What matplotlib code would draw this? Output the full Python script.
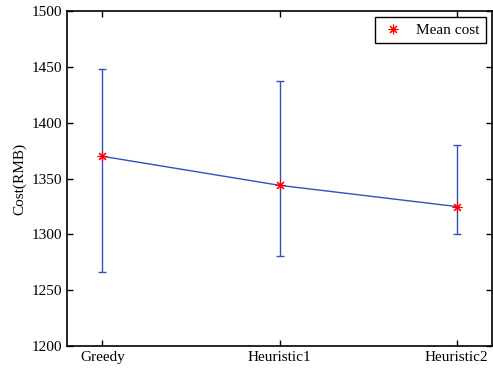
import matplotlib
matplotlib.use('Agg')
import matplotlib.pyplot as plt

plt.rcParams['font.family'] = ['Liberation Serif', 'DejaVu Serif']

methods = ['Greedy', 'Heuristic1', 'Heuristic2']
mean_cost = [1370, 1344, 1325]
low_cost = [1266, 1281, 1300]
high_cost = [1448, 1437, 1380]

xpos = list(range(1, len(methods) + 1))
err_low = [m - l for m, l in zip(mean_cost, low_cost)]
err_high = [h - m for m, h in zip(mean_cost, high_cost)]

fig = plt.figure(figsize=(4.93, 3.71), dpi=100)
ax = fig.add_axes([0.136, 0.067, 0.862, 0.903])

ax.errorbar(xpos, mean_cost, yerr=[err_low, err_high], color='#2f52bd',
            linewidth=1.0, capsize=2.6, capthick=1.0, zorder=2)
# matlab style asterisk marker
ax.plot(xpos, mean_cost, linestyle='None', marker=(8, 2, 0), color='red',
        markersize=7, markeredgewidth=0.8, label='Mean cost', zorder=3)

ax.set_xlim(0.8, 3.2)
ax.set_ylim(1200, 1500)
ax.set_xticks(xpos)
ax.set_xticklabels(methods)
ax.set_yticks(range(1200, 1501, 50))
ax.set_ylabel('Cost(RMB)', fontsize=11)
ax.tick_params(direction='in', top=True, right=True, length=4, labelsize=11, width=1)
for s in ax.spines.values():
    s.set_linewidth(1.2)

leg = ax.legend(loc='upper right', fontsize=11, fancybox=False, framealpha=1,
                edgecolor='black', handlelength=1.5, borderaxespad=0.4)
leg.get_frame().set_linewidth(1.0)

plt.savefig('out.png', dpi=100)
